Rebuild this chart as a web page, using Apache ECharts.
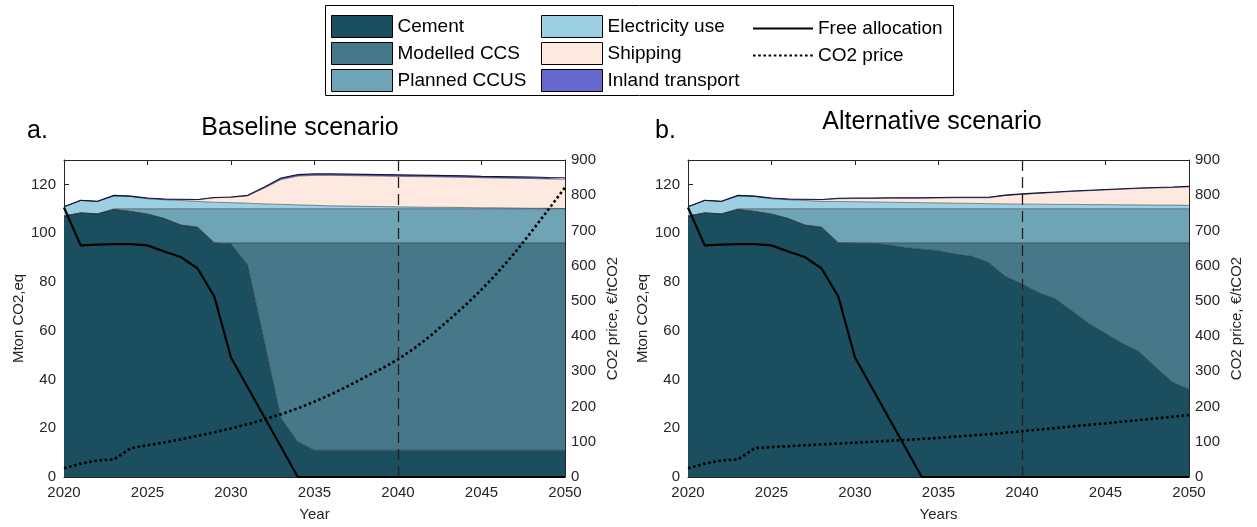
<!DOCTYPE html>
<html>
<head>
<meta charset="utf-8">
<script src="https://cdn.jsdelivr.net/npm/echarts@6/dist/echarts.min.js"></script>
<style>
  html, body { margin: 0; background: #fff; }
  #chart { width: 1257px; height: 527px; }
</style>
</head>
<body>
<div id="chart"></div>
<script>
const years = ['2020', '2021', '2022', '2023', '2024', '2025', '2026', '2027', '2028', '2029', '2030',
  '2031', '2032', '2033', '2034', '2035', '2036', '2037', '2038', '2039', '2040',
  '2041', '2042', '2043', '2044', '2045', '2046', '2047', '2048', '2049', '2050'];

// Baseline scenario (Mton CO2,eq, stacked components)
const baseCement = [107.0, 108.3, 107.9, 109.7, 108.9, 107.8, 106.0, 103.3, 102.4, 96.0, 95.6,
  87.0, 55.5, 24.0, 14.5, 11.0, 11.0, 11.0, 11.0, 11.0, 11.0,
  11.0, 11.0, 11.0, 11.0, 11.0, 11.0, 11.0, 11.0, 11.0, 11.0];
const baseModelledCCS = [0, 0, 0, 0, 0, 0, 0, 0, 0, 0, 0.4,
  9.0, 40.5, 72.0, 81.5, 85.0, 85.0, 85.0, 85.0, 85.0, 85.0,
  85.0, 85.0, 85.0, 85.0, 85.0, 85.0, 85.0, 85.0, 85.0, 85.0];
const basePlannedCCUS = [0, 0, 0, 0.3, 1.1, 2.2, 4.0, 6.7, 7.6, 14.0, 14.0,
  14.0, 14.0, 14.0, 14.0, 14.0, 14.0, 14.0, 14.0, 14.0, 14.0,
  14.0, 14.0, 14.0, 14.0, 14.0, 14.0, 14.0, 14.0, 14.0, 14.0];
const baseElectricity = [3.8, 5.1, 5.1, 5.3, 5.0, 4.1, 3.7, 3.4, 3.0, 2.7, 2.5,
  2.3, 2.0, 1.8, 1.6, 1.4, 1.2, 1.1, 1.0, 0.9, 0.8,
  0.7, 0.6, 0.6, 0.5, 0.4, 0.4, 0.3, 0.2, 0.2, 0.1];
const baseShipping = [0, 0, 0, 0.1, 0.1, 0.2, 0.2, 0.4, 0.7, 1.8, 2.2,
  3.0, 6.5, 10.2, 11.8, 12.3, 12.5, 12.5, 12.5, 12.5, 12.5,
  12.5, 12.5, 12.4, 12.4, 12.3, 12.2, 12.2, 12.2, 12.0, 12.0];
const baseInland = [0, 0.1, 0.1, 0.1, 0.1, 0.1, 0.1, 0.1, 0.1, 0.1, 0.1,
  0.2, 0.4, 0.6, 0.6, 0.6, 0.6, 0.6, 0.6, 0.6, 0.6,
  0.6, 0.6, 0.6, 0.6, 0.6, 0.6, 0.6, 0.6, 0.6, 0.6];
const basePrice = [25, 38, 47, 50, 82, 90, 98, 107, 117, 127, 138,
  150, 164, 178, 195, 214, 235, 258, 283, 307, 334,
  366, 403, 444, 486, 532, 582, 637, 697, 759, 822];

// Alternative scenario
const altCement = [107.0, 108.3, 107.9, 109.7, 108.9, 107.8, 106.0, 103.3, 102.4, 96.0, 95.9,
  95.8, 95.2, 94.1, 93.4, 92.8, 91.4, 90.5, 88.0, 82.3, 79.2,
  75.6, 73.1, 68.1, 63.0, 58.9, 54.8, 51.5, 45.1, 39.0, 35.9];
const altModelledCCS = [0, 0, 0, 0, 0, 0, 0, 0, 0, 0, 0.1,
  0.2, 0.8, 1.9, 2.6, 3.2, 4.6, 5.5, 8.0, 13.7, 16.8,
  20.4, 22.9, 27.9, 33.0, 37.1, 41.2, 44.5, 50.9, 57.0, 60.1];
const altPlannedCCUS = [0, 0, 0, 0.3, 1.1, 2.2, 4.0, 6.7, 7.6, 14.0, 14.0,
  14.0, 14.0, 14.0, 14.0, 14.0, 14.0, 14.0, 14.0, 14.0, 14.0,
  14.0, 14.0, 14.0, 14.0, 14.0, 14.0, 14.0, 14.0, 14.0, 14.0];
const altElectricity = [3.8, 5.1, 5.1, 5.3, 5.0, 4.1, 3.7, 3.4, 3.0, 3.0, 2.9,
  2.8, 2.7, 2.6, 2.5, 2.4, 2.3, 2.2, 2.1, 2.0, 1.9,
  1.9, 1.8, 1.8, 1.7, 1.7, 1.6, 1.6, 1.5, 1.5, 1.4];
const altShipping = [0, 0, 0, 0.1, 0.1, 0.2, 0.2, 0.4, 0.7, 1.1, 1.3,
  1.4, 1.6, 1.7, 1.8, 2.0, 2.2, 2.3, 2.4, 3.4, 4.0,
  4.4, 4.9, 5.3, 5.7, 6.0, 6.4, 6.7, 7.0, 7.2, 7.6];
const altInland = [0, 0.1, 0.1, 0.1, 0.1, 0.1, 0.1, 0.1, 0.1, 0.2, 0.2,
  0.2, 0.2, 0.2, 0.2, 0.2, 0.2, 0.2, 0.2, 0.2, 0.2,
  0.2, 0.2, 0.2, 0.2, 0.2, 0.2, 0.2, 0.2, 0.2, 0.2];
const altPrice = [25, 38, 47, 50, 82, 85, 87.5, 90, 92.5, 95, 97.5,
  100, 102.5, 105, 108, 111, 114.5, 118, 121.5, 125.5, 130,
  134.5, 139, 143.5, 148, 152.5, 157, 161.5, 166.5, 171, 176];

// same in both scenarios
const freeAllocation = [110.5, 95.0, 95.3, 95.5, 95.5, 95.0, 92.5, 90.2, 85.5, 74.0, 49.0,
  36.8, 24.5, 12.3, 0, 0, 0, 0, 0, 0, 0,
  0, 0, 0, 0, 0, 0, 0, 0, 0, 0];

const colors = {
  'Cement': '#1b4e5e',
  'Modelled CCS': '#47788a',
  'Planned CCUS': '#6fa3b6',
  'Electricity use': '#9dcfe2',
  'Shipping': '#fde9df',
  'Inland transport': '#6667cf'
};

const FONT = 'Liberation Sans, Arial, sans-serif';
const TXT = '#262626';

const chart = echarts.init(document.getElementById('chart'));

function areaSeries(name, data, idx) {
  const top = name === 'Inland transport';
  return {
    name, type: 'line', stack: 'total' + idx,
    xAxisIndex: idx * 2, yAxisIndex: idx * 2,
    data, symbol: 'none',
    color: colors[name],
    lineStyle: top ? { color: '#151540', width: 1.1 } : { color: 'rgba(30,40,45,0.75)', width: 0.7 },
    areaStyle: { color: colors[name], opacity: 1 },
    z: 2
  };
}

function scenario(idx, comp, price) {
  const names = ['Cement', 'Modelled CCS', 'Planned CCUS', 'Electricity use', 'Shipping', 'Inland transport'];
  const list = names.map((n, k) => areaSeries(n, comp[k], idx));
  list.push({
    name: 'Free allocation', type: 'line',
    xAxisIndex: idx * 2, yAxisIndex: idx * 2,
    data: freeAllocation, symbol: 'none',
    lineStyle: { color: '#000', width: 2.2 }, color: '#000', z: 4,
    markLine: {
      silent: true, symbol: 'none', animation: false,
      label: { show: false },
      lineStyle: { color: '#222', width: 1.3, type: [11, 6] },
      data: [{ xAxis: '2040' }]
    }
  });
  list.push({
    name: 'CO2 price', type: 'line',
    xAxisIndex: idx * 2, yAxisIndex: idx * 2 + 1,
    data: price, symbol: 'none',
    lineStyle: { color: '#000', width: 2.6, type: [2.6, 2.6] }, color: '#000', z: 5
  });
  return list;
}

const every5 = i => i % 5 === 0;

function xAxes(grid, name) {
  const common = {
    type: 'category', gridIndex: grid, data: years, boundaryGap: false,
    axisLine: { show: true, onZero: false, lineStyle: { color: TXT, width: 1 } },
    axisTick: { inside: true, length: 5, interval: every5, lineStyle: { color: TXT } },
    splitLine: { show: false }
  };
  return [Object.assign({}, common, {
    name, nameLocation: 'middle', nameGap: 30,
    nameTextStyle: { color: TXT, fontSize: 15, fontFamily: FONT },
    axisLabel: { color: TXT, fontSize: 15, fontFamily: FONT, margin: 8, interval: every5 }
  }), Object.assign({}, common, {
    position: 'top', axisLabel: { show: false }
  })];
}

function yAxes(grid) {
  return [{
    type: 'value', gridIndex: grid, min: 0, max: 130, interval: 20,
    name: 'Mton CO2,eq', nameLocation: 'middle', nameGap: 38,
    nameTextStyle: { color: TXT, fontSize: 15, fontFamily: FONT },
    axisLine: { show: true, lineStyle: { color: TXT, width: 1 } },
    axisTick: { show: true, inside: true, length: 5, lineStyle: { color: TXT } },
    axisLabel: { color: TXT, fontSize: 15, fontFamily: FONT, margin: 8, showMaxLabel: false },
    splitLine: { show: false }
  }, {
    type: 'value', gridIndex: grid, min: 0, max: 900, interval: 100, position: 'right',
    name: 'CO2 price, €/tCO2', nameLocation: 'middle', nameGap: 40,
    nameTextStyle: { color: TXT, fontSize: 15, fontFamily: FONT },
    axisLine: { show: true, lineStyle: { color: TXT, width: 1 } },
    axisTick: { show: true, inside: true, length: 5, lineStyle: { color: TXT } },
    axisLabel: { color: TXT, fontSize: 15, fontFamily: FONT, margin: 6 },
    splitLine: { show: false }
  }];
}

const rectItem = n => ({ name: n, icon: 'rect', itemStyle: { color: colors[n], borderColor: '#000', borderWidth: 1 } });
const lineItem = n => ({ name: n, itemStyle: { opacity: 0 } });
const legendBase = {
  orient: 'vertical', padding: 0, itemGap: 4, itemWidth: 61, itemHeight: 22, selectedMode: false,
  textStyle: { color: '#000', fontSize: 19, fontFamily: FONT }, z: 10
};

const titleFont = { fontSize: 25, fontWeight: 'normal', color: '#000', fontFamily: FONT };

const option = {
  animation: false,
  backgroundColor: '#fff',
  title: [
    { text: 'a.', left: 27, top: 119, padding: 0, textStyle: titleFont },
    { text: 'Baseline scenario', left: 300, top: 116, padding: 0, textAlign: 'center', textStyle: titleFont },
    { text: 'b.', left: 655, top: 119, padding: 0, textStyle: titleFont },
    { text: 'Alternative scenario', left: 932, top: 110, padding: 0, textAlign: 'center', textStyle: titleFont }
  ],
  graphic: [{
    type: 'rect', left: 325, top: 5, z: 0,
    shape: { width: 628, height: 90 },
    style: { fill: '#fff', stroke: '#000', lineWidth: 1 }
  }],
  legend: [
    Object.assign({}, legendBase, { left: 331, top: 15, data: ['Cement', 'Modelled CCS', 'Planned CCUS'].map(rectItem) }),
    Object.assign({}, legendBase, { left: 541, top: 15, data: ['Electricity use', 'Shipping', 'Inland transport'].map(rectItem) }),
    Object.assign({}, legendBase, { left: 752, top: 19, itemWidth: 60, itemHeight: 18, itemGap: 8, data: ['Free allocation', 'CO2 price'].map(lineItem) })
  ],
  grid: [
    { left: 64, top: 160, width: 501, height: 321 },
    { left: 688, top: 160, width: 501, height: 321 }
  ],
  xAxis: [...xAxes(0, 'Year'), ...xAxes(1, 'Years')],
  yAxis: [...yAxes(0), ...yAxes(1)],
  series: [
    ...scenario(0, [baseCement, baseModelledCCS, basePlannedCCUS, baseElectricity, baseShipping, baseInland], basePrice),
    ...scenario(1, [altCement, altModelledCCS, altPlannedCCUS, altElectricity, altShipping, altInland], altPrice)
  ]
};

chart.setOption(option);
</script>
</body>
</html>
